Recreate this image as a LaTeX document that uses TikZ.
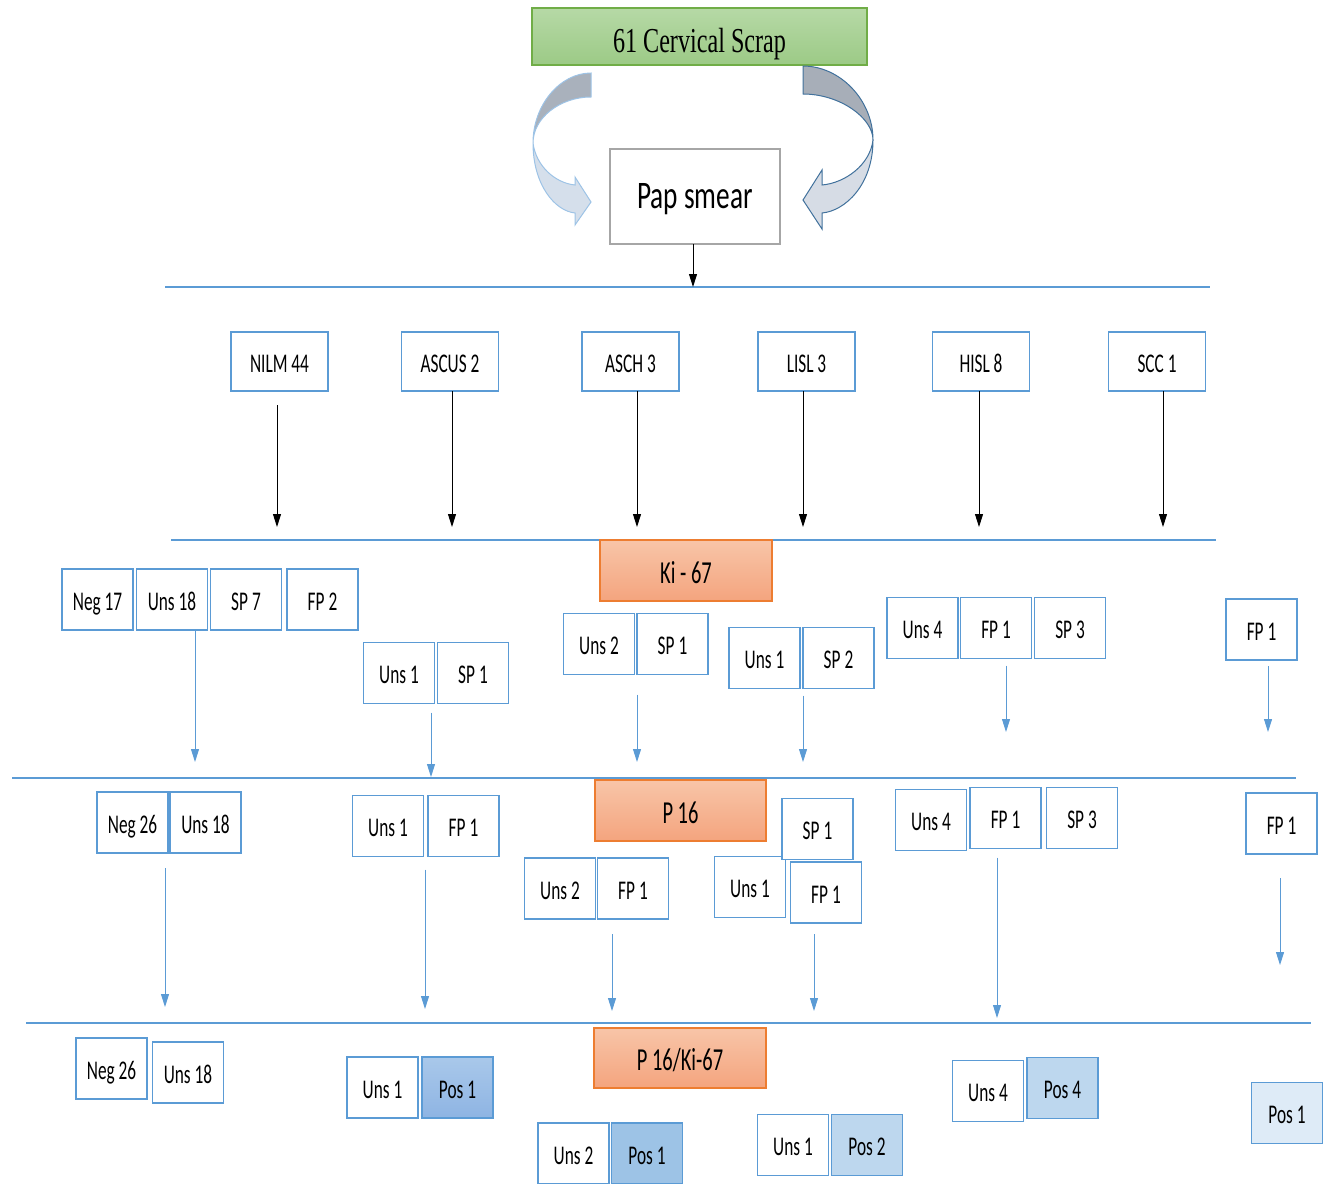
\documentclass[tikz,border=0pt]{standalone}
\usepackage{fontspec}
\newfontfamily\cf[FakeStretch=0.64]{Carlito}
\newfontfamily\cfw[FakeStretch=0.70]{Carlito}
\newfontfamily\tf[FakeStretch=0.69]{Liberation Serif}
\usetikzlibrary{arrows.meta}
\definecolor{bblue}{HTML}{5B9BD5}
\definecolor{gtop}{HTML}{B6D9A6}
\definecolor{gbot}{HTML}{9CCA86}
\definecolor{gbrd}{HTML}{70AD47}
\definecolor{otop}{HTML}{F8C5A8}
\definecolor{obot}{HTML}{F4A47E}
\definecolor{obrd}{HTML}{ED7D31}
\definecolor{papbrd}{HTML}{A6A6A6}
\definecolor{posA}{HTML}{A9C8EA}
\definecolor{posB}{HTML}{8EB4E3}
\definecolor{posC}{HTML}{9DC3E6}
\definecolor{posD}{HTML}{BDD7EE}
\definecolor{posE}{HTML}{DEEBF7}
\definecolor{lbrd}{HTML}{9DC3E6}
\definecolor{rbrd}{HTML}{41719C}
\definecolor{grayL}{HTML}{A9B1BC}
\definecolor{lightL}{HTML}{D5DFEB}
\definecolor{grayR}{HTML}{A7AEB8}
\definecolor{lightR}{HTML}{D6DCE5}
\begin{document}
\begin{tikzpicture}[x=1pt,y=-1pt,
  cell/.style={draw=bblue, line width=1.4pt, fill=white, inner sep=0pt, outer sep=0pt,
    minimum width=71pt, minimum height=61pt, text height=21pt, text depth=0pt,
    font=\cf\fontsize{27}{30}\selectfont},
  cat/.style={cell, minimum width=97pt, minimum height=59pt},
  hdr/.style={draw=obrd, line width=1.4pt, top color=otop, bottom color=obot, inner sep=0pt, outer sep=0pt,
    minimum width=172pt, minimum height=61pt, text height=25pt, text depth=0pt,
    font=\cf\fontsize{32}{36}\selectfont},
  hline/.style={draw=bblue, line width=1.6pt},
  karrow/.style={draw=black, line width=0.9pt, -{Triangle[length=13pt,width=8pt]}},
  barrow/.style={draw=bblue, line width=0.9pt, -{Triangle[length=13pt,width=8pt]}}]
\useasboundingbox (0,0) rectangle (1329,1183);

% top
\node[draw=gbrd, line width=1.2pt, top color=gtop, bottom color=gbot, inner sep=0pt, outer sep=0pt,
  minimum width=335pt, minimum height=57pt, text height=31pt, text depth=0pt,
  font=\tf\fontsize{35}{40}\selectfont] (scrap) at (699.5,36.5) {61 Cervical Scrap};
\node[draw=papbrd, line width=1.2pt, fill=white, inner sep=0pt, outer sep=0pt,
  minimum width=170pt, minimum height=95pt, text height=23pt, text depth=0pt,
  font=\cfw\fontsize{39}{44}\selectfont] (pap) at (695,196.5) {Pap smear};

% curved arrows
\filldraw[draw=lbrd, line width=1pt, fill=grayL] (591,73) .. controls (560,73) and (533,105) .. (533,143)
  .. controls (533,118) and (560,97) .. (591,97) -- cycle;
\filldraw[draw=lbrd, line width=1pt, fill=lightL] (533,143) .. controls (533,185) and (555,211) .. (575,213)
  -- (575,225) -- (591,202) -- (575,177) -- (575,185) .. controls (555,183) and (536,166) .. (533,143) -- cycle;
\filldraw[draw=rbrd, line width=1pt, fill=grayR] (803,66) .. controls (840,66) and (873,100) .. (873,140)
  .. controls (873,118) and (840,94) .. (803,94) -- cycle;
\filldraw[draw=rbrd, line width=1pt, fill=lightR] (873,140) .. controls (873,185) and (845,211) .. (822,213)
  -- (822,229) -- (803,200) -- (822,170) -- (822,185) .. controls (845,183) and (870,165) .. (873,140) -- cycle;

% horizontal lines
\draw[hline] (165,287) -- (1210,287);
\draw[hline] (171,540) -- (1216,540);
\draw[hline] (12,778) -- (1296,778);
\draw[hline] (26,1023) -- (1311,1023);

\coordinate (p0) at (693,287);
\draw[karrow] (pap.south -| p0) -- (p0);

% row 1
\node[cat] (nilm) at (279.5,361.5) {NILM 44};
\node[cat] (ascus) at (450,361.5) {ASCUS 2};
\node[cat] (asch) at (630.5,361.5) {ASCH 3};
\node[cat] (lisl) at (806.5,361.5) {LISL 3};
\node[cat] (hisl) at (981,361.5) {HISL 8};
\node[cat] (scc) at (1157,361.5) {SCC 1};

\coordinate (k1) at (277,527);
\coordinate (k2) at (452,527);
\coordinate (k3) at (637,527);
\coordinate (k4) at (803,527);
\coordinate (k5) at (979,527);
\coordinate (k6) at (1163,527);
\draw[karrow] ([yshift=-14pt]nilm.south -| k1) -- (k1);
\draw[karrow] (ascus.south -| k2) -- (k2);
\draw[karrow] (asch.south -| k3) -- (k3);
\draw[karrow] (lisl.south -| k4) -- (k4);
\draw[karrow] (hisl.south -| k5) -- (k5);
\draw[karrow] (scc.south -| k6) -- (k6);

% Ki-67
\node[hdr] (ki) at (686,570.5) {Ki - 67};

% row 2
\node[cell] (n17) at (97.5,599.5) {Neg 17};
\node[cell] (u18) at (172,599.5) {Uns 18};
\node[cell] (sp7) at (246,599.5) {SP 7};
\node[cell] (fp2) at (322.5,599.5) {FP 2};
\node[cell] (b1u) at (399,673) {Uns 1};
\node[cell] (b1s) at (473,673) {SP 1};
\node[cell] (c1u) at (599,644) {Uns 2};
\node[cell] (c1s) at (672.5,644) {SP 1};
\node[cell] (d1u) at (764.5,658) {Uns 1};
\node[cell] (d1s) at (838.5,658) {SP 2};
\node[cell] (e1u) at (922.5,628) {Uns 4};
\node[cell] (e1f) at (996,628) {FP 1};
\node[cell] (e1s) at (1070,628) {SP 3};
\node[cell] (f1f) at (1261.5,629.5) {FP 1};

\coordinate (t1) at (195,762);
\coordinate (t2) at (431,777);
\coordinate (t3) at (637,762);
\coordinate (t4) at (803,762);
\coordinate (t5) at (1006,732);
\coordinate (t6) at (1268,732);
\draw[barrow] (u18.south -| t1) -- (t1);
\draw[barrow] ([yshift=-9pt]b1u.south -| t2) -- (t2);
\draw[barrow] ([yshift=-20pt]c1s.south -| t3) -- (t3);
\draw[barrow] ([yshift=-7pt]d1s.south -| t4) -- (t4);
\draw[barrow] ([yshift=-7pt]e1f.south -| t5) -- (t5);
\draw[barrow] ([yshift=-6pt]f1f.south -| t6) -- (t6);

% P 16
\node[hdr, minimum width=171pt] (p16) at (680.5,810.5) {P 16};

% row 3
\node[cell] (a2n) at (132.5,822.5) {Neg 26};
\node[cell] (a2u) at (205.5,822.5) {Uns 18};
\node[cell] (b2u) at (388,826) {Uns 1};
\node[cell] (b2f) at (463.5,826) {FP 1};
\node[cell] (c2u) at (560,888.5) {Uns 2};
\node[cell] (c2f) at (633,888.5) {FP 1};
\node[cell] (d2u) at (750,887) {Uns 1};
\node[cell] (d2s) at (817.5,829) {SP 1};
\node[cell] (d2f) at (826,892.5) {FP 1};
\node[cell] (e2u) at (931,820) {Uns 4};
\node[cell] (e2f) at (1005.5,818) {FP 1};
\node[cell] (e2s) at (1082,818) {SP 3};
\node[cell] (f2f) at (1281.5,823.5) {FP 1};

\coordinate (s1) at (165,1007);
\coordinate (s2) at (425,1009);
\coordinate (s3) at (612,1011);
\coordinate (s4) at (814,1011);
\coordinate (s5) at (997,1018);
\coordinate (s6) at (1280,965);
\draw[barrow] ([yshift=-15pt]a2n.south -| s1) -- (s1);
\draw[barrow] ([yshift=-13pt]b2u.south -| s2) -- (s2);
\draw[barrow] ([yshift=-15pt]c2f.south -| s3) -- (s3);
\draw[barrow] ([yshift=-11pt]d2f.south -| s4) -- (s4);
\draw[barrow] ([yshift=-9pt]e2f.south -| s5) -- (s5);
\draw[barrow] ([yshift=-24pt]f2f.south -| s6) -- (s6);

% P16/Ki-67
\node[hdr, minimum height=60pt] (pk) at (680,1058) {P 16/Ki-67};

% row 4
\node[cell] (a3n) at (111.5,1068.5) {Neg 26};
\node[cell] (a3u) at (188,1072.5) {Uns 18};
\node[cell] (b3u) at (382.5,1087.5) {Uns 1};
\node[cell, top color=posA, bottom color=posB] (b3p) at (457.5,1087.5) {Pos 1};
\node[cell] (c3u) at (573.5,1153.5) {Uns 2};
\node[cell, fill=posC] (c3p) at (647,1153.5) {Pos 1};
\node[cell] (d3u) at (793,1145) {Uns 1};
\node[cell, fill=posD] (d3p) at (867,1145) {Pos 2};
\node[cell] (e3u) at (988,1091) {Uns 4};
\node[cell, fill=posD] (e3p) at (1062.5,1088) {Pos 4};
\node[cell, fill=posE] (f3p) at (1287,1113) {Pos 1};
\end{tikzpicture}
\end{document}
